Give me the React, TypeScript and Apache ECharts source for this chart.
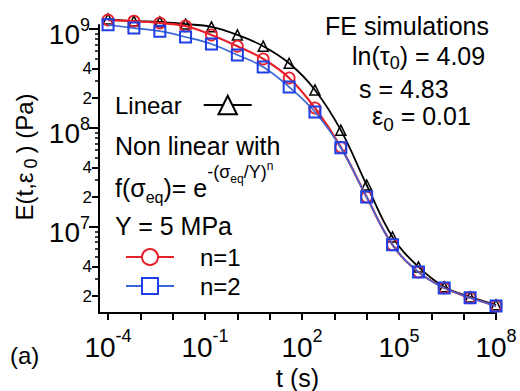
import React, { useEffect, useRef } from "react";
import * as echarts from "echarts";

// ---- data ----
const timeS = [1e-4, 6.3e-4, 4.0e-3, 2.5e-2, 0.158, 1, 6.3, 40, 251, 1585, 1.0e4, 6.3e4, 4.0e5, 2.5e6, 1.58e7, 1e8];
const linearE = [1.26e9, 1.2e9, 1.18e9, 1.12e9, 1.05e9, 8.7e8, 6.7e8, 4.5e8, 2.42e8, 9.5e7, 2.65e7, 7.9e6, 3.94e6, 2.48e6, 1.96e6, 1.63e6];
const n1E = [1.23e9, 1.2e9, 1.15e9, 1.07e9, 8.7e8, 6.7e8, 4.98e8, 3.2e8, 1.59e8, 6.4e7, 2.0e7, 6.6e6, 3.5e6, 2.42e6, 1.92e6, 1.59e6];
const n2E = [1.1e9, 1.02e9, 9.5e8, 8.3e8, 7.05e8, 5.46e8, 4.13e8, 2.59e8, 1.45e8, 6.3e7, 2.0e7, 6.6e6, 3.5e6, 2.42e6, 1.92e6, 1.59e6];

const seriesNames = ["Linear", "n=1", "n=2"];

// axis ticks (exponents / values)
const xTickDecades = [-4, -3, -2, -1, 0, 1, 2, 3, 4, 5, 6, 7, 8];
const xLabelDecades = [-4, -1, 2, 5, 8];
const yDecades = [7, 8, 9];
const yLabeledMinor = [2e6, 4e6, 2e7, 4e7, 2e8, 4e8];
const yMinor = [3e6, 5e6, 6e6, 7e6, 8e6, 9e6, 3e7, 5e7, 6e7, 7e7, 8e7, 9e7, 3e8, 5e8, 6e8, 7e8, 8e8, 9e8];

const X_MIN = -4.28;
const X_MAX = 8;
const Y_MIN = 6.13;
const Y_MAX = 9.04;

const FONT = "Liberation Sans, Arial, Helvetica, sans-serif";

const lg = (v: number) => Math.log10(v);

export default function App() {
  const ref = useRef<HTMLDivElement>(null);

  useEffect(() => {
    if (!ref.current) return;
    const chart = echarts.init(ref.current, null, { renderer: "svg" });

    const toPts = (ys: number[]) => timeS.map((t, i) => [lg(t), lg(ys[i])]);

    const baseY = {
      type: "value",
      min: Y_MIN,
      max: Y_MAX,
      position: "left",
      offset: 0,
      splitLine: { show: false },
      axisLine: { show: false, onZero: false },
    };

    const option: any = {
      animation: false,
      backgroundColor: "#fff",
      textStyle: { fontFamily: FONT },
      grid: { left: 99, right: 24, top: 25, bottom: 78, containLabel: false, outerBoundsMode: "none" },
      xAxis: {
        type: "value",
        min: X_MIN,
        max: X_MAX,
        splitLine: { show: false },
        axisLine: { show: true, onZero: false, lineStyle: { color: "#000", width: 2 } },
        axisTick: { show: true, customValues: xTickDecades, length: 7, lineStyle: { color: "#000", width: 2 } },
        axisLabel: {
          customValues: xLabelDecades,
          margin: 14,
          formatter: (v: number) => `{b|10}{s|${Math.round(v)}}`,
          rich: {
            b: { fontSize: 28, fontFamily: FONT, color: "#000", lineHeight: 34, verticalAlign: "bottom" },
            s: { fontSize: 18, fontFamily: FONT, color: "#000", lineHeight: 34, verticalAlign: "top" },
          },
        },
        name: "t (s)",
        nameLocation: "middle",
        nameGap: 50,
        nameTextStyle: { fontSize: 25, fontFamily: FONT, color: "#000" },
      },
      yAxis: [
        {
          ...baseY,
          axisLine: { show: true, onZero: false, lineStyle: { color: "#000", width: 2 } },
          axisTick: { show: true, customValues: yDecades, length: 10, lineStyle: { color: "#000", width: 2 } },
          axisLabel: {
            customValues: yDecades,
            margin: 9,
            formatter: (v: number) => `{b|10}{s|${Math.round(v)}}`,
            rich: {
              b: { fontSize: 28, fontFamily: FONT, color: "#000", lineHeight: 40, verticalAlign: "bottom" },
              s: { fontSize: 18, fontFamily: FONT, color: "#000", lineHeight: 40, verticalAlign: "top", padding: [7, 0, 0, 0] },
            },
          },
        },
        {
          ...baseY,
          axisTick: { show: true, customValues: yLabeledMinor.map(lg), length: 7, lineStyle: { color: "#000", width: 2 } },
          axisLabel: {
            customValues: yLabeledMinor.map(lg),
            margin: 7,
            fontSize: 17,
            fontFamily: FONT,
            color: "#000",
            formatter: (v: number) => String(Math.round(Math.pow(10, v) / Math.pow(10, Math.floor(v + 1e-9)))),
          },
        },
        {
          ...baseY,
          axisTick: { show: true, customValues: yMinor.map(lg), length: 4, lineStyle: { color: "#000", width: 1.5 } },
          axisLabel: { show: false },
        },
      ],
      legend: [
        {
          data: [seriesNames[0]],
          left: 115,
          top: 93,
          padding: 0,
          align: "right",
          itemWidth: 48,
          itemHeight: 23,
          selectedMode: false,
          itemStyle: { color: "#fff" },
          textStyle: { fontSize: 24, fontFamily: FONT, color: "#000", lineHeight: 24, padding: [0, 17, 0, 0] },
        },
        {
          data: [seriesNames[1], seriesNames[2]],
          left: 125,
          top: 245,
          padding: 0,
          orient: "vertical",
          itemGap: 5,
          itemWidth: 48,
          itemHeight: 20,
          selectedMode: false,
          itemStyle: { color: "#fff" },
          textStyle: { fontSize: 24, fontFamily: FONT, color: "#000", lineHeight: 24, padding: [0, 0, 0, 21] },
        },
      ],
      series: [
        {
          name: seriesNames[0],
          type: "line",
          data: toPts(linearE),
          smooth: 0.4,
          clip: false,
          symbol: "triangle",
          symbolSize: 10,
          lineStyle: { color: "#000", width: 1.8 },
          itemStyle: { color: "transparent", borderColor: "#000", borderWidth: 1.5 },
          z: 2,
        },
        {
          name: seriesNames[1],
          type: "line",
          data: toPts(n1E),
          smooth: 0.4,
          clip: false,
          symbol: "circle",
          symbolSize: 11,
          lineStyle: { color: "#e8202a", width: 2.2 },
          itemStyle: { color: "transparent", borderColor: "#e8202a", borderWidth: 1.8 },
          z: 3,
        },
        {
          name: seriesNames[2],
          type: "line",
          data: toPts(n2E),
          smooth: 0.4,
          clip: false,
          symbol: "rect",
          symbolSize: 11,
          lineStyle: { color: "#3a68d8", width: 1.6 },
          itemStyle: { color: "transparent", borderColor: "#1e3ee6", borderWidth: 2 },
          z: 4,
        },
      ],
      graphic: [
        {
          type: "text",
          x: 325,
          y: 26,
          style: { text: "FE simulations", fontSize: 25, fontFamily: FONT, fill: "#000", align: "left", verticalAlign: "middle" },
        },
        {
          type: "text",
          x: 352,
          y: 56,
          style: {
            text: "{b|ln(τ}{s|0}{b|) = 4.09}",
            fill: "#000",
            align: "left",
            verticalAlign: "middle",
            rich: {
              b: { fontSize: 25, fontFamily: FONT, fill: "#000", lineHeight: 30, verticalAlign: "middle" },
              s: { fontSize: 18, fontFamily: FONT, fill: "#000", lineHeight: 30, verticalAlign: "top", padding: [13, 0, 0, 0] },
            },
          },
        },
        {
          type: "text",
          x: 359,
          y: 89,
          style: { text: "s = 4.83", fontSize: 25, fontFamily: FONT, fill: "#000", align: "left", verticalAlign: "middle" },
        },
        {
          type: "text",
          x: 372,
          y: 116,
          style: {
            text: "{b|ε}{s|0}{b| = 0.01}",
            fill: "#000",
            align: "left",
            verticalAlign: "middle",
            rich: {
              b: { fontSize: 25, fontFamily: FONT, fill: "#000", lineHeight: 30, verticalAlign: "middle" },
              s: { fontSize: 19, fontFamily: FONT, fill: "#000", lineHeight: 30, verticalAlign: "top", padding: [14, 0, 0, 0] },
            },
          },
        },
        {
          type: "text",
          x: 115,
          y: 146,
          style: { text: "Non linear with", fontSize: 25, fontFamily: FONT, fill: "#000", align: "left", verticalAlign: "middle" },
        },
        {
          type: "text",
          x: 115,
          y: 188,
          style: {
            text: "{t|f(σ}{ts|eq}{t|)= e}{p|-(σ}{ps|eq}{p|/Y)}{pp|n}",
            fill: "#000",
            align: "left",
            verticalAlign: "middle",
            rich: {
              t: { fontSize: 25, fontFamily: FONT, fill: "#000", lineHeight: 56, verticalAlign: "middle" },
              ts: { fontSize: 16, fontFamily: FONT, fill: "#000", lineHeight: 56, verticalAlign: "top", padding: [29, 0, 0, 0] },
              p: { fontSize: 18, fontFamily: FONT, fill: "#000", lineHeight: 56, verticalAlign: "top", padding: [3, 0, 0, 0] },
              ps: { fontSize: 12, fontFamily: FONT, fill: "#000", lineHeight: 56, verticalAlign: "top", padding: [13, 0, 0, 0] },
              pp: { fontSize: 12, fontFamily: FONT, fill: "#000", lineHeight: 56, verticalAlign: "top" },
            },
          },
        },
        {
          type: "text",
          x: 115,
          y: 226,
          style: { text: "Y = 5 MPa", fontSize: 25, fontFamily: FONT, fill: "#000", align: "left", verticalAlign: "middle" },
        },
        {
          type: "text",
          x: 10,
          y: 355,
          style: { text: "(a)", fontSize: 24, fontFamily: FONT, fill: "#000", align: "left", verticalAlign: "middle" },
        },
        {
          type: "text",
          x: 24,
          y: 157,
          rotation: Math.PI / 2,
          style: {
            text: "{b|E(t,ε}{s|0}{b|) (Pa)}",
            fill: "#000",
            align: "center",
            verticalAlign: "middle",
            rich: {
              b: { fontSize: 24, fontFamily: FONT, fill: "#000", lineHeight: 30, verticalAlign: "middle" },
              s: { fontSize: 18, fontFamily: FONT, fill: "#000", lineHeight: 30, verticalAlign: "top", padding: [13, 5, 0, 4] },
            },
          },
        },
      ],
    };

    chart.setOption(option);
    return () => chart.dispose();
  }, []);

  return (
    <div
      ref={ref}
      style={{ position: "fixed", left: 0, top: 0, width: 520, height: 391, background: "#fff" }}
    />
  );
}
